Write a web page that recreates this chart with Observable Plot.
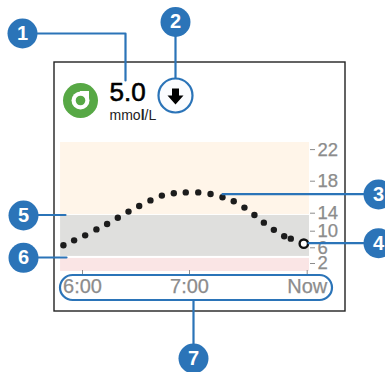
<!DOCTYPE html>
<html><head><meta charset="utf-8">
<script src="https://cdn.jsdelivr.net/npm/d3@7"></script>
<script src="https://cdn.jsdelivr.net/npm/@observablehq/plot@0.6"></script>
<style>html,body{margin:0;padding:0;background:#fff}#c{position:relative;width:385px;height:372px;overflow:hidden}#c svg{position:absolute;left:0;top:0;background:transparent}
#c svg g[aria-label$="tick label"] text{stroke:#8c8c8c;stroke-width:.25px}</style>
</head><body><div id="c"></div>
<script>
const minutes = [-10.7,-4.7,1.5,7.8,13.8,19.8,25.8,31.8,38.1,44.5,51.2,57.9,64.9,71.8,78.5,84.8,90.8,96.4,101.7,107.3,113.1,116.8,124.1];
const glucose = [6.6,7.8,9.0,10.4,11.6,13.0,14.2,14.9,15.6,16.2,16.5,16.6,16.6,16.4,16.0,15.5,14.7,13.6,11.9,10.3,8.8,8.2,7.0];
const xTicks = [0,60,126];
const xLabels = ["6:00","7:00","Now"];
const yTicks = [2,6,10,14,18,22];
const bands = [
  {y1:13.7,y2:22.9,fill:"#fff5e9"},
  {y1:3.8,y2:13.5,fill:"#dfdfdd"},
  {y1:0,y2:3.3,fill:"#fae5e5"}
];
const bandStart = -12.3, bandEnd = 127.3;
const points = minutes.map((x,i)=>({x,y:glucose[i]}));
const last = points[points.length-1];
const sans = "'Liberation Sans', Arial, sans-serif";
const chart = Plot.plot({
  width:385,height:372,margin:0,marginRight:76,marginBottom:102,
  style:{fontFamily:sans,background:"transparent"},
  x:{type:"linear",domain:[0,60],range:[82,189]},
  y:{type:"linear",domain:[0,2,6,10,14,18,22.9],range:[271,263,247.3,230.7,212.7,180.7,142]},
  marks:[
    Plot.rect(bands,{x1:()=>bandStart,x2:()=>bandEnd,y1:"y1",y2:"y2",fill:"fill"}),
    Plot.axisX({ticks:xTicks,tickFormat:d=>xLabels[xTicks.indexOf(d)],tickSize:4,tickPadding:4,fontSize:20,stroke:"#8c8c8c",color:"#8c8c8c",label:null,anchor:"bottom"}),
    Plot.axisY({ticks:yTicks,anchor:"right",tickSize:5,tickPadding:3,fontSize:18.5,stroke:"#8c8c8c",color:"#8c8c8c",label:null}),
    Plot.dot(points.slice(0,-1),{x:"x",y:"y",r:3.2,fill:"#1c1c1c"}),
    Plot.dot([last],{x:"x",y:"y",r:4.2,fill:"#fff",stroke:"#111",strokeWidth:2.4})
  ]
});
document.getElementById("c").appendChild(chart);

const BLUE="#2b74b8";
const leaders=[
  [[35,33],[125,33],[125,80]],
  [[175,35],[175,79]],
  [[222,193.7],[365,193.7]],
  [[308,242.7],[365,242.7]],
  [[36,214.5],[65,214.5]],
  [[36,257],[66,257]],
  [[193,300],[193,345]]
];
const bubbles=[
  {x:22,y:33,t:"1"},{x:175,y:21.5,t:"2"},{x:378,y:194,t:"3"},{x:378,y:242.7,t:"4"},
  {x:23,y:215,t:"5"},{x:23,y:257.3,t:"6"},{x:193,y:358,t:"7"}
];
const arrow=[[171.5,88],[178.5,88],[178.5,95],[183,95],[175,104],[167,95],[171.5,95],[171.5,88]];
const overlay = Plot.plot({
  width:385,height:372,margin:0,
  style:{fontFamily:sans,background:"transparent"},
  x:{type:"identity",axis:null},y:{type:"identity",axis:null},
  marks:[
    Plot.rect([{}],{x1:()=>54,x2:()=>345,y1:()=>62,y2:()=>311,fill:"none",stroke:"#222",strokeWidth:1.4}),
    ...leaders.map(l=>Plot.line(l,{x:d=>d[0],y:d=>d[1],stroke:BLUE,strokeWidth:2.2})),
    Plot.rect([{}],{x1:()=>60,x2:()=>332,y1:()=>275,y2:()=>300,rx:12.5,fill:"none",stroke:BLUE,strokeWidth:2.2}),
    Plot.dot([{}],{x:()=>80,y:()=>100,r:17.5,fill:"#57a845"}),
    Plot.dot([{}],{x:()=>80,y:()=>100,r:9,fill:"#fff"}),
    Plot.rect([{}],{x1:()=>80,x2:()=>89,y1:()=>91,y2:()=>100,fill:"#fff"}),
    Plot.dot([{}],{x:()=>80,y:()=>100,r:4.8,fill:"#57a845"}),
    Plot.dot([{}],{x:()=>175,y:()=>95,r:17,fill:"#fbfcfe",stroke:BLUE,strokeWidth:2.2}),
    Plot.line(arrow,{x:d=>d[0],y:d=>d[1],fill:"#000",stroke:"none"}),
    Plot.text([{}],{x:()=>109,y:()=>92,text:()=>"5.0",textAnchor:"start",fontSize:26,fontWeight:400,fill:"#000",stroke:"#000",strokeWidth:0.6}),
    Plot.text([{}],{x:()=>109,y:()=>115,text:()=>"mmol/L",textAnchor:"start",fontSize:14,fill:"#222"}),
    Plot.dot(bubbles,{x:"x",y:"y",r:15,fill:BLUE}),
    Plot.text(bubbles,{x:"x",y:"y",text:"t",fontSize:20,fontWeight:700,fill:"#fff"})
  ]
});
document.getElementById("c").appendChild(overlay);
overlay.querySelectorAll("tspan, text").forEach(t=>{
  if(t.textContent==="mmol/L" && !t.children.length){
    t.textContent="";
    [["mmo",400],["l",700],["/L",400]].forEach(([s,w])=>{
      const sp=document.createElementNS("http://www.w3.org/2000/svg","tspan");
      sp.textContent=s;sp.setAttribute("font-weight",w);t.appendChild(sp);
    });
  }
});
</script></body></html>
